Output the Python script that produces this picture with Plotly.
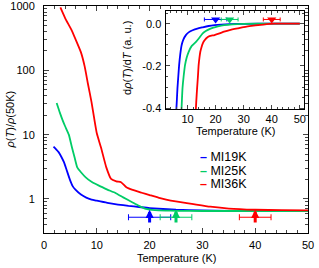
import math
import plotly.graph_objects as go

# ---------------- data ----------------
names = ["MI19K", "MI25K", "MI36K"]
colors = ["#0000ff", "#00cc66", "#ff0000"]

# main panel: rho(T)/rho(50K)
t_19 = [1.8, 2.3, 2.8, 3.3, 3.8, 4.3, 4.9, 5.4, 6.0, 7, 8, 9, 10, 12, 14, 16, 18, 20, 25, 30, 35, 40, 45, 50]
r_19 = [6.5, 5.9, 5.3, 4.5, 3.7, 2.8, 2.0, 1.6, 1.38, 1.17, 1.05, 0.98, 0.94, 0.87, 0.82, 0.78, 0.75, 0.72,
        0.68, 0.665, 0.655, 0.65, 0.65, 0.65]
t_25 = [2.4, 3.0, 3.5, 4.0, 4.7, 5.3, 5.8, 6.3, 7.0, 7.9, 9.0, 10.4, 12, 13.6, 15, 16.7, 18, 19.3, 21, 23,
        25, 30, 40, 50]
r_25 = [31, 22, 17, 13.5, 10, 6.3, 4.4, 3.1, 2.6, 2.17, 1.85, 1.61, 1.4, 1.23, 1.06, 0.89, 0.78, 0.70, 0.67,
        0.66, 0.655, 0.65, 0.65, 0.65]
t_36 = [3.1, 4.0, 5.2, 6.0, 7.0, 7.7, 8.3, 9.0, 9.5, 10.0, 10.8, 11.8, 12.7, 13.7, 14.6, 15.6, 16.8, 18.5,
        20, 22, 24, 28, 31.5, 35, 40, 45, 50]
r_36 = [950, 650, 425, 300, 190, 115, 63, 32, 18, 10.5, 6.3, 3.1, 2.05, 1.88, 1.82, 1.52, 1.38, 1.25,
        1.15, 1.03, 0.94, 0.84, 0.76, 0.71, 0.68, 0.67, 0.665]

# inset: d rho / dT (a.u.)
dt_19 = [5.95, 6.2, 6.4, 6.7, 7.0, 7.4, 7.9, 8.5, 9.4, 10.5, 11.8, 13.5, 15.4, 17.5, 19.6, 22, 25, 30, 40, 50]
d_19 = [-0.42, -0.36, -0.306, -0.25, -0.196, -0.145, -0.101, -0.075, -0.054, -0.04, -0.031, -0.023,
        -0.017, -0.011, -0.007, -0.004, -0.002, -0.001, 0, 0]
dt_25 = [7.8, 8.0, 8.2, 8.6, 9.1, 9.7, 10.4, 11.5, 13.0, 14.0, 15.4, 16.5, 17.8, 19.2, 20.8, 23, 26, 30, 40, 50]
d_25 = [-0.42, -0.36, -0.306, -0.25, -0.196, -0.16, -0.133, -0.105, -0.086, -0.07, -0.046, -0.035,
        -0.026, -0.019, -0.013, -0.007, -0.003, -0.001, 0, 0]
dt_36 = [12.9, 13.1, 13.4, 13.7, 13.95, 14.25, 14.55, 15.0, 15.4, 16.0, 16.6, 17.8, 19.6, 21.4, 23, 25,
         28, 32, 37, 41, 50]
d_36 = [-0.42, -0.37, -0.306, -0.25, -0.196, -0.16, -0.133, -0.11, -0.094, -0.08, -0.07, -0.059, -0.054,
        -0.046, -0.038, -0.03, -0.022, -0.012, -0.004, 0, 0]

# characteristic temperatures with uncertainty
tc = [20, 25, 40]
tc_err = [4, 3, 3]
main_err_y = 0.52      # level of horizontal error bars in main panel
arrow_tip = 0.68
arrow_base = 0.41
inset_mark_y = 0.02

main_x_ticks = [0, 10, 20, 30, 40, 50]
main_y_ticks = [1, 10, 100, 1000]
inset_y_ticks = [-0.4, -0.2, 0.0]
inset_y_text = ["-0.4", "-0.2", "0.0"]
inset_x_ticks = [10, 20, 30, 40, 50]

FONT = "Liberation Sans, Arial, sans-serif"

fig = go.Figure()

main_series = [(t_19, r_19), (t_25, r_25), (t_36, r_36)]
inset_series = [(dt_19, d_19), (dt_25, d_25), (dt_36, d_36)]

for (tx, ry), c, n in zip(main_series, colors, names):
    fig.add_trace(go.Scatter(x=tx, y=ry, mode="lines", name=n, showlegend=False,
                             line=dict(color=c, width=1.8, shape="spline", smoothing=0.5),
                             xaxis="x", yaxis="y"))

for i, c in enumerate(colors):
    fig.add_trace(go.Scatter(x=[tc[i]], y=[main_err_y], mode="markers", showlegend=False,
                             marker=dict(size=1, color=c),
                             error_x=dict(type="data", array=[tc_err[i]], color=c, thickness=1, width=3),
                             xaxis="x", yaxis="y"))

for (tx, dy), c in zip(inset_series, colors):
    fig.add_trace(go.Scatter(x=tx, y=dy, mode="lines", showlegend=False,
                             line=dict(color=c, width=1.8, shape="spline", smoothing=0.5),
                             xaxis="x2", yaxis="y2"))

for i, c in enumerate(colors):
    fig.add_trace(go.Scatter(x=[tc[i]], y=[inset_mark_y], mode="markers", showlegend=False,
                             marker=dict(symbol="triangle-down", size=8, color=c),
                             error_x=dict(type="data", array=[tc_err[i]], color=c, thickness=1, width=2),
                             xaxis="x2", yaxis="y2"))

annotations = []
for i, c in enumerate(colors):
    annotations.append(dict(x=tc[i], y=math.log10(arrow_tip), ax=tc[i], ay=math.log10(arrow_base),
                            xref="x", yref="y", axref="x", ayref="y", text="", showarrow=True,
                            arrowhead=2, arrowsize=0.55, arrowwidth=3, arrowcolor=c))

# legend drawn as text
leg_y = [0.333, 0.273, 0.214]
for i, (c, n) in enumerate(zip(colors, names)):
    annotations.append(dict(x=0.585, y=leg_y[i], xref="paper", yref="paper", xanchor="left",
                            yanchor="middle", showarrow=False,
                            text=f"<span style='color:{c}'><b>–</b></span> {n}",
                            font=dict(family=FONT, size=12.5, color="black")))

# axis titles
title_font = dict(family=FONT, size=11, color="black")
annotations += [
    dict(x=0.5, y=-0.11, xref="paper", yref="paper", text="Temperature (K)", showarrow=False,
         xanchor="center", yanchor="middle", font=title_font),
    dict(x=-0.129, y=0.5, xref="paper", yref="paper", text="<i>ρ</i>(<i>T</i>)/<i>ρ</i>(50K)",
         showarrow=False, textangle=-90, xanchor="center", yanchor="middle", font=title_font),
    dict(x=0.725, y=0.449, xref="paper", yref="paper", text="Temperature (K)", showarrow=False,
         xanchor="center", yanchor="middle", font=title_font),
    dict(x=0.314, y=0.771, xref="paper", yref="paper",
         text="d<i>ρ</i>(<i>T</i>)/d<i>T</i> (a. u.)", showarrow=False, textangle=-90,
         xanchor="center", yanchor="middle", font=title_font),
]

fig.update_layout(
    width=319, height=268,
    margin=dict(l=44, r=11, t=6, b=35, autoexpand=False),
    paper_bgcolor="white", plot_bgcolor="white",
    font=dict(family=FONT, size=11, color="black"),
    annotations=annotations,
    shapes=[dict(type="line", xref="x2 domain", yref="y2", x0=0, x1=1, y0=0, y1=0,
                 line=dict(color="black", width=1, dash="dot"), layer="below")],
    xaxis=dict(domain=[0, 1], range=[0, 50], tickvals=main_x_ticks, ticks="inside", ticklen=5,
               showline=True, linecolor="black", linewidth=1, mirror="ticks", showgrid=False,
               zeroline=False, minor=dict(ticks="inside", ticklen=3, dtick=2, tick0=0),
               automargin=False, ticklabelstandoff=2, ticklabeloverflow="allow",
               tickfont=dict(size=11)),
    yaxis=dict(domain=[0, 1], type="log", range=[-0.529, 3.0], tickvals=main_y_ticks,
               ticktext=[str(v) for v in main_y_ticks], ticks="inside", ticklen=5,
               showline=True, linecolor="black", linewidth=1, mirror="ticks", showgrid=False,
               zeroline=False, minor=dict(ticks="inside", ticklen=3, dtick="D1"),
               automargin=False, ticklabelstandoff=6, ticklabeloverflow="allow",
               tickfont=dict(size=11)),
    xaxis2=dict(domain=[0.464, 0.986], anchor="y2", range=[2.5, 51.6], tickvals=inset_x_ticks,
                ticks="inside", ticklen=4, showline=True, linecolor="black", linewidth=1,
                mirror="ticks", showgrid=False, zeroline=False,
                minor=dict(ticks="inside", ticklen=2, dtick=2, tick0=0),
                automargin=False, ticklabeloverflow="allow", tickfont=dict(size=11)),
    yaxis2=dict(domain=[0.545, 0.978], anchor="x2", range=[-0.405, 0.06], tickvals=inset_y_ticks,
                ticktext=inset_y_text, ticks="inside", ticklen=4, showline=True, linecolor="black",
                linewidth=1, mirror="ticks", showgrid=False, zeroline=False,
                minor=dict(ticks="inside", ticklen=2, dtick=0.05, tick0=0),
                automargin=False, ticklabelstandoff=2, ticklabeloverflow="allow",
                tickfont=dict(size=11)),
)

fig.write_html("out.html", config={"displayModeBar": False},
               post_script="document.body.style.margin='0px';")
